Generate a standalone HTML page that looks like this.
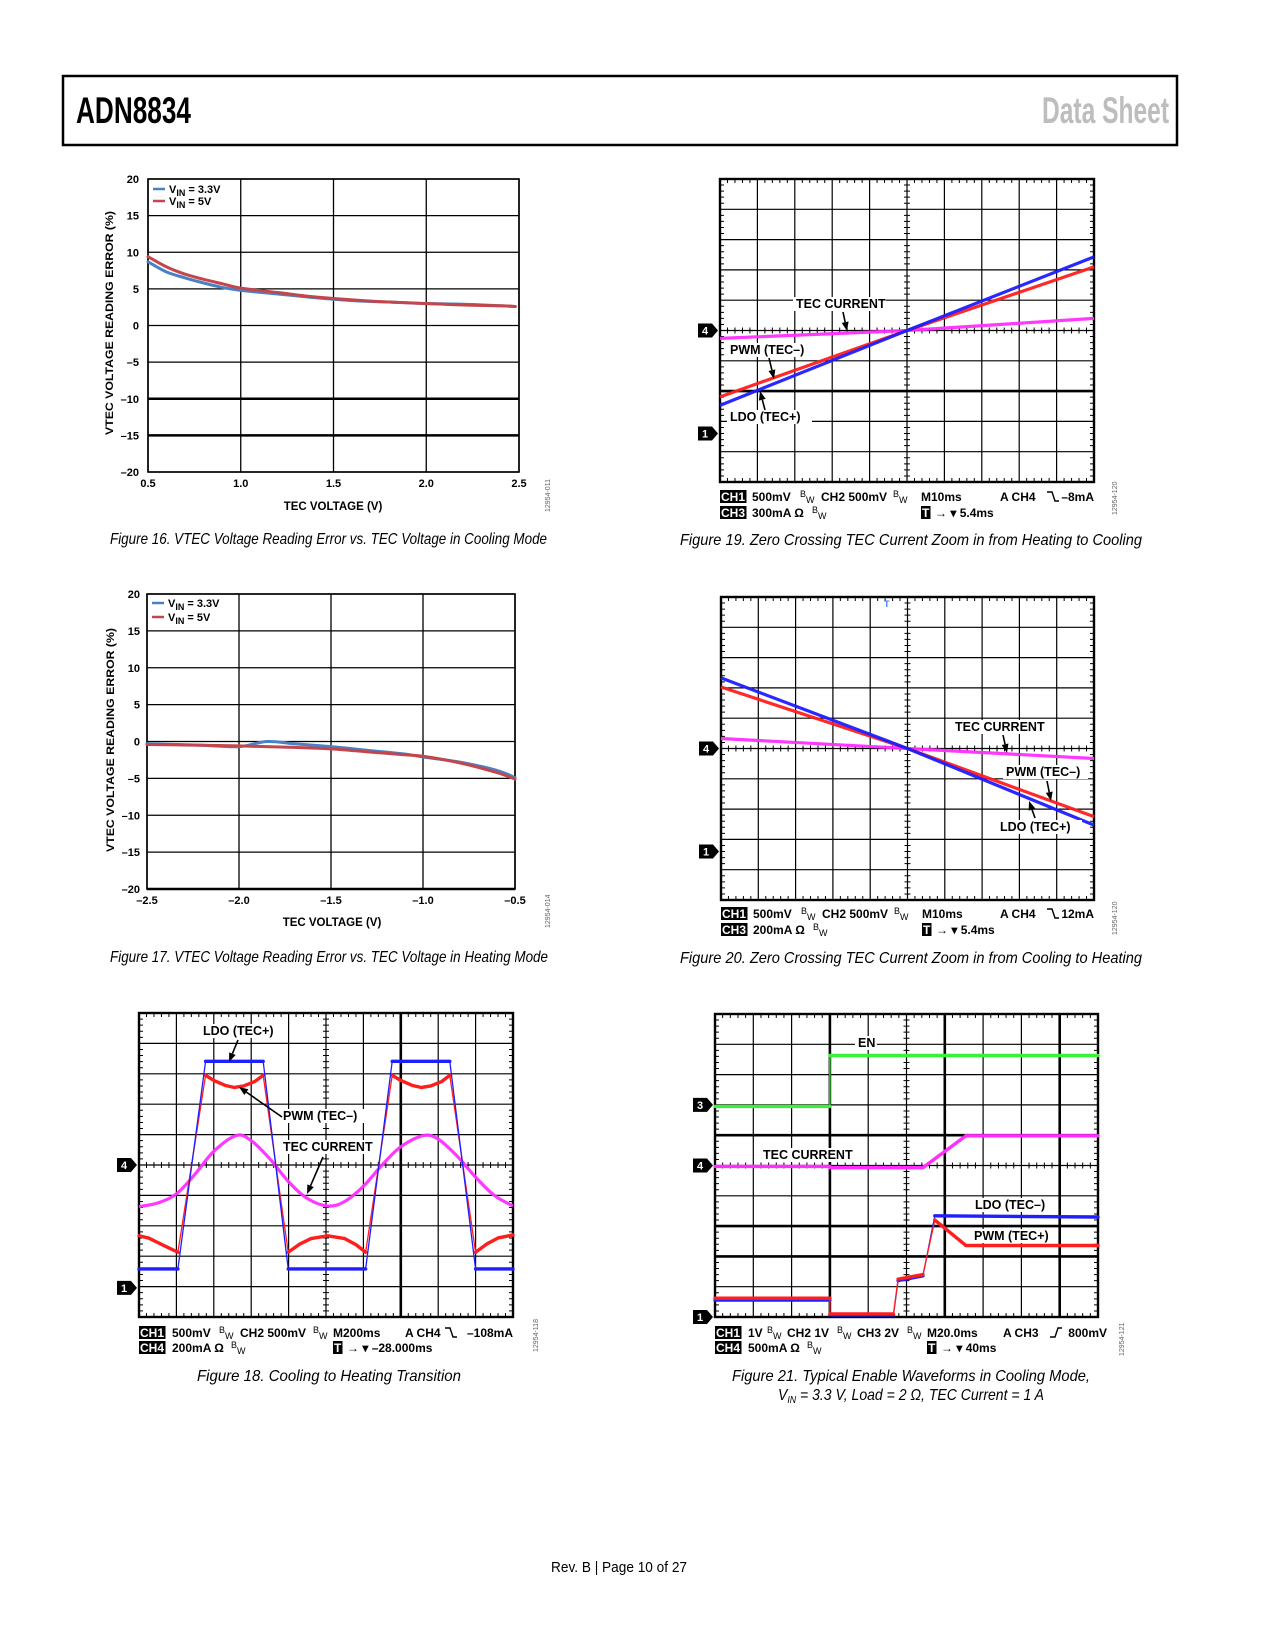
<!DOCTYPE html>
<html><head><meta charset="utf-8"><style>
html,body{margin:0;padding:0;background:#fff;}
svg{display:block;}
text{font-family:"Liberation Sans",sans-serif;}
.cap{font-family:"Liberation Sans Narrow","Liberation Sans",sans-serif;font-style:italic;font-size:16px;}
</style></head><body>
<svg id="page" width="1275" height="1650" viewBox="0 0 1275 1650" xmlns="http://www.w3.org/2000/svg">
<rect x="0" y="0" width="1275" height="1650" fill="#fff"/>
<rect x="63" y="76" width="1114" height="69" fill="none" stroke="#000" stroke-width="2.5"/>
<text x="76" y="123" font-family="Liberation Sans Narrow, Liberation Sans, sans-serif" font-weight="bold" font-size="37" textLength="115" lengthAdjust="spacingAndGlyphs">ADN8834</text>
<text x="1042" y="123" font-family="Liberation Sans Narrow, Liberation Sans, sans-serif" font-weight="bold" font-size="37" fill="#bdbdbd" textLength="127" lengthAdjust="spacingAndGlyphs">Data Sheet</text>

<text class="cap" x="110" y="544" textLength="437" lengthAdjust="spacingAndGlyphs">Figure 16. VTEC Voltage Reading Error vs. TEC Voltage in Cooling Mode</text>
<text class="cap" x="680" y="545" textLength="462" lengthAdjust="spacingAndGlyphs">Figure 19. Zero Crossing TEC Current Zoom in from Heating to Cooling</text>
<text class="cap" x="110" y="962" textLength="438" lengthAdjust="spacingAndGlyphs">Figure 17. VTEC Voltage Reading Error vs. TEC Voltage in Heating Mode</text>
<text class="cap" x="680" y="963" textLength="462" lengthAdjust="spacingAndGlyphs">Figure 20. Zero Crossing TEC Current Zoom in from Cooling to Heating</text>
<text class="cap" x="197" y="1381" textLength="264" lengthAdjust="spacingAndGlyphs">Figure 18. Cooling to Heating Transition</text>
<text class="cap" x="732" y="1381" textLength="358" lengthAdjust="spacingAndGlyphs">Figure 21. Typical Enable Waveforms in Cooling Mode,</text>
<text class="cap" x="778" y="1400" textLength="266" lengthAdjust="spacingAndGlyphs">V<tspan font-size="10" dy="3">IN</tspan><tspan dy="-3"> = 3.3 V, Load = 2 Ω, TEC Current = 1 A</tspan></text>
<text x="551" y="1572" font-family="Liberation Sans Narrow, Liberation Sans, sans-serif" font-size="15" textLength="136" lengthAdjust="spacingAndGlyphs">Rev. B | Page 10 of 27</text>
</svg>
<script>
// ---------- Figure 16 data ----------
const fig16X = [0.5,0.6,0.7,0.8,0.9,1.0,1.2,1.4,1.6,1.8,2.0,2.2,2.4,2.48];
const fig16Blue = [8.7,7.3,6.5,5.8,5.2,4.8,4.3,3.8,3.4,3.2,3.0,2.9,2.7,2.6];
const fig16Red = [9.4,8.0,7.0,6.3,5.7,5.1,4.5,3.9,3.5,3.2,3.0,2.8,2.7,2.6];
const fig16XTicks = ["0.5","1.0","1.5","2.0","2.5"];
const fig16YTicks = ["20","15","10","5","0","–5","–10","–15","–20"];
// ---------- Figure 17 data ----------
const fig17X = [-2.5,-2.2,-2.0,-1.85,-1.7,-1.5,-1.3,-1.1,-1.0,-0.8,-0.6,-0.5];
const fig17Blue = [-0.3,-0.5,-0.7,0.0,-0.3,-0.7,-1.2,-1.7,-2.1,-2.8,-3.9,-4.9];
const fig17Red = [-0.4,-0.5,-0.6,-0.7,-0.8,-1.0,-1.4,-1.8,-2.0,-2.9,-4.2,-5.1];
const fig17XTicks = ["–2.5","–2.0","–1.5","–1.0","–0.5"];
const fig17YTicks = fig16YTicks;
// ---------- Figure 19 (div units, y from top) ----------
const fig19X = [0,5,10];
const fig19Magenta = [5.26,5.0,4.6];
const fig19Blue = [7.47,5.0,2.57];
const fig19Red = [7.19,5.0,2.9];
// ---------- Figure 20 ----------
const fig20X = [0,5,10];
const fig20Magenta = [4.67,5.0,5.33];
const fig20Blue = [2.67,5.0,7.53];
const fig20Red = [2.97,5.0,7.25];
// ---------- Figure 18 ----------
const fig18BlueX = [0,1.04,1.78,3.32,3.99,6.06,6.77,8.31,9.0,10];
const fig18BlueY = [8.42,8.42,1.59,1.59,8.42,8.42,1.59,1.59,8.42,8.42];
const fig18RedX = [0,0.25,0.5,0.75,1.04,1.78,2.0,2.3,2.55,2.8,3.1,3.32,3.99,4.3,4.6,5.05,5.5,5.8,6.06,6.77,7.0,7.3,7.55,7.8,8.1,8.31,9.0,9.3,9.6,10];
const fig18RedY = [7.33,7.4,7.55,7.7,7.87,2.05,2.22,2.38,2.45,2.4,2.25,2.05,7.87,7.6,7.42,7.33,7.42,7.62,7.87,2.05,2.22,2.38,2.45,2.4,2.25,2.05,7.87,7.6,7.4,7.3];
const fig18MagX = [0,0.5,1.0,1.5,2.0,2.6,3.0,3.5,4.0,4.5,5.05,5.5,6.0,6.5,7.0,7.6,8.0,8.5,9.0,9.5,10];
const fig18MagY = [6.37,6.25,5.95,5.3,4.55,4.03,4.2,4.8,5.55,6.1,6.35,6.2,5.7,5.0,4.4,4.03,4.15,4.7,5.4,6.0,6.35];
// ---------- Figure 21 ----------
const fig21GreenX = [0,3.0,3.0,10];
const fig21GreenY = [3.05,3.05,1.37,1.37];
const fig21MagX = [0,3.0,3.0,5.43,6.55,10];
const fig21MagY = [5.03,5.03,5.07,5.07,4.02,4.02];
const fig21BlueX = [0,3.0,3.0,4.66,4.78,5.43,5.74,10];
const fig21BlueY = [9.44,9.44,9.93,9.93,8.8,8.64,6.66,6.7];
const fig21RedX = [0,3.0,3.0,4.66,4.78,5.43,5.74,6.55,10];
const fig21RedY = [9.38,9.38,9.9,9.9,8.75,8.6,6.8,7.64,7.64];

const NS = 'http://www.w3.org/2000/svg';
const svg = document.getElementById('page');
function mk(tag, attrs, parent, txt) {
  const e = document.createElementNS(NS, tag);
  for (const k in attrs) e.setAttribute(k, attrs[k]);
  if (txt !== undefined) e.textContent = txt;
  (parent || svg).appendChild(e);
  return e;
}
function smoothPath(pts) {
  let d = 'M' + pts[0][0].toFixed(2) + ',' + pts[0][1].toFixed(2);
  for (let i = 0; i < pts.length - 1; i++) {
    const p0 = pts[Math.max(0, i - 1)], p1 = pts[i], p2 = pts[i + 1], p3 = pts[Math.min(pts.length - 1, i + 2)];
    const c1x = p1[0] + (p2[0] - p0[0]) / 6, c1y = p1[1] + (p2[1] - p0[1]) / 6;
    const c2x = p2[0] - (p3[0] - p1[0]) / 6, c2y = p2[1] - (p3[1] - p1[1]) / 6;
    d += ' C' + c1x.toFixed(2) + ',' + c1y.toFixed(2) + ' ' + c2x.toFixed(2) + ',' + c2y.toFixed(2) + ' ' + p2[0].toFixed(2) + ',' + p2[1].toFixed(2);
  }
  return d;
}
function linePath(pts) {
  return pts.map((p, i) => (i ? 'L' : 'M') + p[0].toFixed(2) + ',' + p[1].toFixed(2)).join(' ');
}

// ---------- XY error charts ----------
function errorChart(cfg) {
  const g = mk('g', {});
  
  
  const xs = v => cfg.L + (v - cfg.xmin) / (cfg.xmax - cfg.xmin) * (cfg.R - cfg.L);
  const ys = v => cfg.B - (v + 20) / 40 * (cfg.B - cfg.T);
  for (let i = 0; i <= 8; i++) {
    const v = 20 - i * 5, y = ys(v);
    const thick = cfg.thick.indexOf(v) >= 0;
    const gl = mk('line', {x1: cfg.L, x2: cfg.R, y1: y, y2: y, stroke: '#000', 'stroke-width': thick ? 2.6 : 1.3}, g);
    
    
    const tl = mk('text', {x: cfg.ytx, y: y + 4, 'text-anchor': 'end', 'font-size': 11, 'font-weight': 'bold'}, g, cfg.yticks[i]);
    
    
  }
  for (let i = 0; i < cfg.xticks.length; i++) {
    const v = cfg.xmin + i * (cfg.xmax - cfg.xmin) / (cfg.xticks.length - 1), x = xs(v);
    const gl = mk('line', {x1: x, x2: x, y1: cfg.T, y2: cfg.B, stroke: '#000', 'stroke-width': 1.3}, g);
    
    
    const tl = mk('text', {x: x, y: cfg.xty, 'text-anchor': 'middle', 'font-size': 11, 'font-weight': 'bold'}, g, cfg.xticks[i]);
    
    
  }
  const fr = mk('rect', {x: cfg.L, y: cfg.T, width: cfg.R - cfg.L, height: cfg.B - cfg.T, fill: 'none', stroke: '#000', 'stroke-width': 1.6}, g);
  
  
  const xt = mk('text', {x: cfg.xtitleX, y: cfg.xtitleY, 'text-anchor': 'middle', 'font-size': 11.5, 'font-weight': 'bold'}, g, 'TEC VOLTAGE (V)');
  
  
  const yt = mk('text', {x: 0, y: 0, 'text-anchor': 'middle', 'font-size': 11, 'font-weight': 'bold', transform: 'translate(' + cfg.ytitleX + ',' + cfg.ytitleY + ') rotate(-90)', textLength: 224, lengthAdjust: 'spacingAndGlyphs'}, g, 'VTEC VOLTAGE READING ERROR (%)');
  
  
  const series = [[cfg.blue, '#4a80c4', 'series-vin-3v3'], [cfg.red, '#c2464b', 'series-vin-5v']];
  series.forEach(s => {
    const pts = cfg.x.map((v, i) => [xs(v), ys(s[0][i])]);
    const p = mk('path', {d: smoothPath(pts), fill: 'none', stroke: s[1], 'stroke-width': 3, 'stroke-linecap': 'round', 'stroke-linejoin': 'round'}, g);
    
    
  });
  const lg = mk('g', {}, g);
  
  
  [[cfg.leg[0], '#4a80c4', '3.3V'], [cfg.leg[1], '#c2464b', '5V']].forEach(l => {
    const ln = mk('line', {x1: cfg.L + 5, x2: cfg.L + 17, y1: l[0], y2: l[0], stroke: l[1], 'stroke-width': 2.5}, lg);
    
    
    const t = mk('text', {x: cfg.L + 21, y: l[0] + 4, 'font-size': 11, 'font-weight': 'bold'}, lg);
    
    
    t.innerHTML = 'V<tspan font-size="9" dy="3">IN</tspan><tspan dy="-3"> = ' + l[2] + '</tspan>';
  });
  const id = mk('text', {x: 0, y: 0, 'font-size': 7, fill: '#666', transform: 'translate(' + cfg.idX + ',' + cfg.idY + ') rotate(-90)'}, g, cfg.idText);
  
  
}
errorChart({name: 'figure16-chart', L: 148, R: 519, T: 179, B: 472, xmin: 0.5, xmax: 2.5, x: fig16X, blue: fig16Blue, red: fig16Red,
  xticks: fig16XTicks, yticks: fig16YTicks, thick: [-10, -15], ytx: 139, xty: 487, xtitleX: 333, xtitleY: 510, ytitleX: 113, ytitleY: 323,
  leg: [189, 201], idX: 550, idY: 512, idText: '12954-011'});
errorChart({name: 'figure17-chart', L: 147, R: 515, T: 594, B: 889, xmin: -2.5, xmax: -0.5, x: fig17X, blue: fig17Blue, red: fig17Red,
  xticks: fig17XTicks, yticks: fig17YTicks, thick: [-20], ytx: 140, xty: 904, xtitleX: 332, xtitleY: 926, ytitleX: 114, ytitleY: 740,
  leg: [603, 617], idX: 550, idY: 928, idText: '12954-014'});

// ---------- Scope screens ----------
function scope(cfg) {
  const g = mk('g', {});
  
  
  const dx = (cfg.R - cfg.L) / 10, dy = (cfg.B - cfg.T) / 10;
  const sx = v => cfg.L + v * dx, sy = v => cfg.T + v * dy;
  cfg.sx = sx; cfg.sy = sy;
  for (let i = 1; i < 10; i++) {
    const th = cfg.thickV.indexOf(i) >= 0;
    const l = mk('line', {x1: sx(i), x2: sx(i), y1: cfg.T, y2: cfg.B, stroke: '#000', 'stroke-width': th ? 2.6 : 1.2}, g);
    
    
    const th2 = cfg.thickH.indexOf(i) >= 0;
    const h = mk('line', {x1: cfg.L, x2: cfg.R, y1: sy(i), y2: sy(i), stroke: '#000', 'stroke-width': th2 ? 2.6 : 1.2}, g);
    
    
  }
  let d = '';
  for (let k = 1; k < 50; k++) {
    if (k % 5 === 0) continue;
    const x = cfg.L + k * dx / 5, y = cfg.T + k * dy / 5;
    d += 'M' + x + ',' + cfg.T + 'v4 M' + x + ',' + cfg.B + 'v-4 M' + x + ',' + (sy(5) - 3) + 'v6 ';
    d += 'M' + cfg.L + ',' + y + 'h4 M' + cfg.R + ',' + y + 'h-4 M' + (sx(5) - 3) + ',' + y + 'h6 ';
  }
  const tk = mk('path', {d: d, stroke: '#000', 'stroke-width': 1, fill: 'none'}, g);
  
  
  const fr = mk('rect', {x: cfg.L, y: cfg.T, width: cfg.R - cfg.L, height: cfg.B - cfg.T, fill: 'none', stroke: '#000', 'stroke-width': 2.4}, g);
  
  
  cfg.markers.forEach(m => {
    const y = sy(m[1]), x = cfg.L - 2;
    const mg = mk('g', {}, g);
    
    
    mk('path', {d: 'M' + (x - 20) + ',' + (y - 7) + 'h14 l6,7 l-6,7 h-14z', fill: '#000'}, mg);
    mk('text', {x: x - 13, y: y + 4, 'text-anchor': 'middle', fill: '#fff', 'font-size': 11, 'font-weight': 'bold'}, mg, m[0]);
  });
  cfg.g = g;
  return cfg;
}
function trace(cfg, xs, ys, color, name, smooth) {
  const pts = xs.map((v, i) => [cfg.sx(v), cfg.sy(ys[i])]);
  const p = mk('path', {d: smooth ? smoothPath(pts) : linePath(pts), fill: 'none', stroke: color, 'stroke-width': 3.2, 'stroke-linejoin': 'round', opacity: 0.95}, cfg.g);
  
  
}
// thin full trace with thick only on shallow segments (steep edges drawn thin, like a scope)
function edgeTrace(cfg, xs, ys, color, name) {
  const pts = xs.map((v, i) => [cfg.sx(v), cfg.sy(ys[i])]);
  const g = mk('g', {}, cfg.g);
  
  
  mk('path', {d: linePath(pts), fill: 'none', stroke: color, 'stroke-width': 1.3}, g);
  let d = '';
  for (let i = 0; i < xs.length - 1; i++) {
    const ddx = Math.abs(xs[i + 1] - xs[i]), ddy = Math.abs(ys[i + 1] - ys[i]);
    if (ddy > 1.5 * ddx + 0.01 && ddy > 0.3) continue;
    d += 'M' + pts[i][0].toFixed(2) + ',' + pts[i][1].toFixed(2) + ' L' + pts[i + 1][0].toFixed(2) + ',' + pts[i + 1][1].toFixed(2) + ' ';
  }
  mk('path', {d: d, fill: 'none', stroke: color, 'stroke-width': 3.4, 'stroke-linecap': 'round', 'stroke-linejoin': 'round'}, g);
}
function label(cfg, x, y, txt, name) {
  const t = mk('text', {x: x, y: y, 'font-size': 12.5, 'font-weight': 'bold'}, cfg.g, txt);
  const w = txt.length * 7.9;
  const bg = mk('rect', {x: x - 3, y: y - 11, width: w + 6, height: 14, fill: '#fff'}, cfg.g);
  cfg.g.insertBefore(bg, t);
  
  
}
function arrow(cfg, x1, y1, x2, y2, name) {
  const a = Math.atan2(y2 - y1, x2 - x1), L = 9, W = 3.5;
  const bx = x2 - L * Math.cos(a), by = y2 - L * Math.sin(a);
  const px = -Math.sin(a) * W, py = Math.cos(a) * W;
  const g = mk('g', {}, cfg.g);
  
  
  mk('line', {x1: x1, y1: y1, x2: bx, y2: by, stroke: '#000', 'stroke-width': 1.6}, g);
  mk('path', {d: 'M' + x2 + ',' + y2 + ' L' + (bx + px) + ',' + (by + py) + ' L' + (bx - px) + ',' + (by - py) + 'z', fill: '#000'}, g);
}
function footer(cfg, rows) {
  const g = mk('g', {}, cfg.g);
  
  
  rows.forEach(r => {
    const y = r.y;
    r.items.forEach(it => {
      if (it.box) {
        const w = it.box.length * 8.5 + 1;
        mk('rect', {x: it.x, y: y - 11, width: w, height: 13, fill: '#000'}, g);
        mk('text', {x: it.x + 1, y: y, fill: '#fff', 'font-size': 12, 'font-weight': 'bold'}, g, it.box);
      } else if (it.bw) {
        const t = mk('text', {x: it.x, y: y - 4, 'font-size': 9}, g);
        t.innerHTML = 'B<tspan dy="6">W</tspan>';
      } else if (it.trig) {
        const up = it.trig === 'up';
        mk('path', {d: up ? 'M' + it.x + ',' + (y) + 'h5 l3,-9 h4' : 'M' + it.x + ',' + (y - 9) + 'h5 l3,9 h4', fill: 'none', stroke: '#000', 'stroke-width': 1.4}, g);
      } else {
        mk('text', {x: it.x, y: y, 'font-size': 12, 'font-weight': 'bold', 'text-anchor': it.end ? 'end' : 'start'}, g, it.t);
      }
    });
  });
  const id = mk('text', {x: 0, y: 0, 'font-size': 7, fill: '#666', transform: 'translate(' + cfg.idX + ',' + cfg.idY + ') rotate(-90)'}, cfg.g, cfg.idText);
  
  
}

// Figure 19
const s19 = scope({name: 'figure19-scope', L: 720, R: 1094, T: 179, B: 482, thickH: [7], thickV: [], markers: [['4', 5], ['1', 8.4]], idX: 1117, idY: 515, idText: '12954-120'});
trace(s19, fig19X, fig19Magenta, '#ff2dff', 'trace-tec-current', false);
trace(s19, fig19X, fig19Red, '#ff1e1e', 'trace-pwm', false);
trace(s19, fig19X, fig19Blue, '#1e1eff', 'trace-ldo', false);
label(s19, 796, 308, 'TEC CURRENT', 'label-tec-current');
label(s19, 730, 354, 'PWM (TEC–)', 'label-pwm');
label(s19, 730, 421, 'LDO (TEC+)', 'label-ldo');
arrow(s19, 843, 312, 847, 331, 'arrow-tec-current');
arrow(s19, 769, 358, 774, 379, 'arrow-pwm');
arrow(s19, 765, 410, 760, 391, 'arrow-ldo');
footer(s19, [
  {y: 501, items: [{box: 'CH1', x: 720}, {t: '500mV', x: 752}, {bw: 1, x: 800}, {t: 'CH2 500mV', x: 821}, {bw: 1, x: 893}, {t: 'M10ms', x: 921}, {t: 'A  CH4', x: 1000}, {trig: 'down', x: 1047}, {t: '–8mA', x: 1094, end: 1}]},
  {y: 517, items: [{box: 'CH3', x: 720}, {t: '300mA Ω', x: 752}, {bw: 1, x: 812}, {box: 'T', x: 921}, {t: '→ ▾ 5.4ms', x: 935}]}
]);

// Figure 20
const s20 = scope({name: 'figure20-scope', L: 721, R: 1094, T: 597, B: 900, thickH: [], thickV: [], markers: [['4', 5], ['1', 8.4]], idX: 1117, idY: 935, idText: '12954-120'});
trace(s20, fig20X, fig20Magenta, '#ff2dff', 'trace-tec-current', false);
trace(s20, fig20X, fig20Red, '#ff1e1e', 'trace-pwm', false);
trace(s20, fig20X, fig20Blue, '#1e1eff', 'trace-ldo', false);
mk('text', {x: 884, y: 607, 'font-size': 9, fill: '#3a7fff', 'font-weight': 'bold'}, s20.g, 'T');
label(s20, 955, 731, 'TEC CURRENT', 'label-tec-current');
label(s20, 1006, 776, 'PWM (TEC–)', 'label-pwm');
label(s20, 1000, 831, 'LDO (TEC+)', 'label-ldo');
arrow(s20, 1003, 735, 1007, 753, 'arrow-tec-current');
arrow(s20, 1047, 781, 1051, 801, 'arrow-pwm');
arrow(s20, 1035, 818, 1029, 801, 'arrow-ldo');
footer(s20, [
  {y: 918, items: [{box: 'CH1', x: 721}, {t: '500mV', x: 753}, {bw: 1, x: 801}, {t: 'CH2 500mV', x: 822}, {bw: 1, x: 894}, {t: 'M10ms', x: 922}, {t: 'A  CH4', x: 1000}, {trig: 'down', x: 1047}, {t: '12mA', x: 1094, end: 1}]},
  {y: 934, items: [{box: 'CH3', x: 721}, {t: '200mA Ω', x: 753}, {bw: 1, x: 813}, {box: 'T', x: 922}, {t: '→ ▾ 5.4ms', x: 936}]}
]);

// Figure 18
const s18 = scope({name: 'figure18-scope', L: 139, R: 513, T: 1013, B: 1317, thickH: [], thickV: [7], markers: [['4', 5], ['1', 9.04]], idX: 538, idY: 1352, idText: '12954-118'});
trace(s18, fig18MagX, fig18MagY, '#ff2dff', 'trace-tec-current', true);
edgeTrace(s18, fig18RedX, fig18RedY, '#ff1e1e', 'trace-pwm');
edgeTrace(s18, fig18BlueX, fig18BlueY, '#1e1eff', 'trace-ldo');
label(s18, 203, 1035, 'LDO (TEC+)', 'label-ldo');
label(s18, 283, 1120, 'PWM (TEC–)', 'label-pwm');
label(s18, 283, 1151, 'TEC CURRENT', 'label-tec-current');
arrow(s18, 238, 1040, 229, 1062, 'arrow-ldo');
arrow(s18, 282, 1117, 239, 1087, 'arrow-pwm');
arrow(s18, 323, 1157, 307, 1194, 'arrow-tec-current');
footer(s18, [
  {y: 1337, items: [{box: 'CH1', x: 139}, {t: '500mV', x: 172}, {bw: 1, x: 219}, {t: 'CH2 500mV', x: 240}, {bw: 1, x: 313}, {t: 'M200ms', x: 333}, {t: 'A  CH4', x: 405}, {trig: 'down', x: 445}, {t: '–108mA', x: 513, end: 1}]},
  {y: 1352, items: [{box: 'CH4', x: 139}, {t: '200mA Ω', x: 172}, {bw: 1, x: 231}, {box: 'T', x: 333}, {t: '→ ▾ –28.000ms', x: 347}]}
]);

// Figure 21
const s21 = scope({name: 'figure21-scope', L: 715, R: 1098, T: 1014, B: 1317, thickH: [4, 7, 8], thickV: [3, 6, 9], markers: [['3', 3.0], ['4', 5.0], ['1', 10]], idX: 1124, idY: 1356, idText: '12954-121'});
edgeTrace(s21, fig21GreenX, fig21GreenY, '#3bf03b', 'trace-en');
edgeTrace(s21, fig21MagX, fig21MagY, '#ff2dff', 'trace-tec-current');
edgeTrace(s21, fig21BlueX, fig21BlueY, '#1e1eff', 'trace-ldo');
edgeTrace(s21, fig21RedX, fig21RedY, '#ff1e1e', 'trace-pwm');
label(s21, 858, 1047, 'EN', 'label-en');
label(s21, 763, 1159, 'TEC CURRENT', 'label-tec-current');
label(s21, 975, 1209, 'LDO (TEC–)', 'label-ldo');
label(s21, 974, 1240, 'PWM (TEC+)', 'label-pwm');
footer(s21, [
  {y: 1337, items: [{box: 'CH1', x: 715}, {t: '1V', x: 748}, {bw: 1, x: 767}, {t: 'CH2 1V', x: 787}, {bw: 1, x: 837}, {t: 'CH3 2V', x: 857}, {bw: 1, x: 907}, {t: 'M20.0ms', x: 927}, {t: 'A  CH3', x: 1003}, {trig: 'up', x: 1050}, {t: '800mV', x: 1107, end: 1}]},
  {y: 1352, items: [{box: 'CH4', x: 715}, {t: '500mA Ω', x: 748}, {bw: 1, x: 807}, {box: 'T', x: 927}, {t: '→ ▾ 40ms', x: 941}]}
]);
</script>
</body></html>
